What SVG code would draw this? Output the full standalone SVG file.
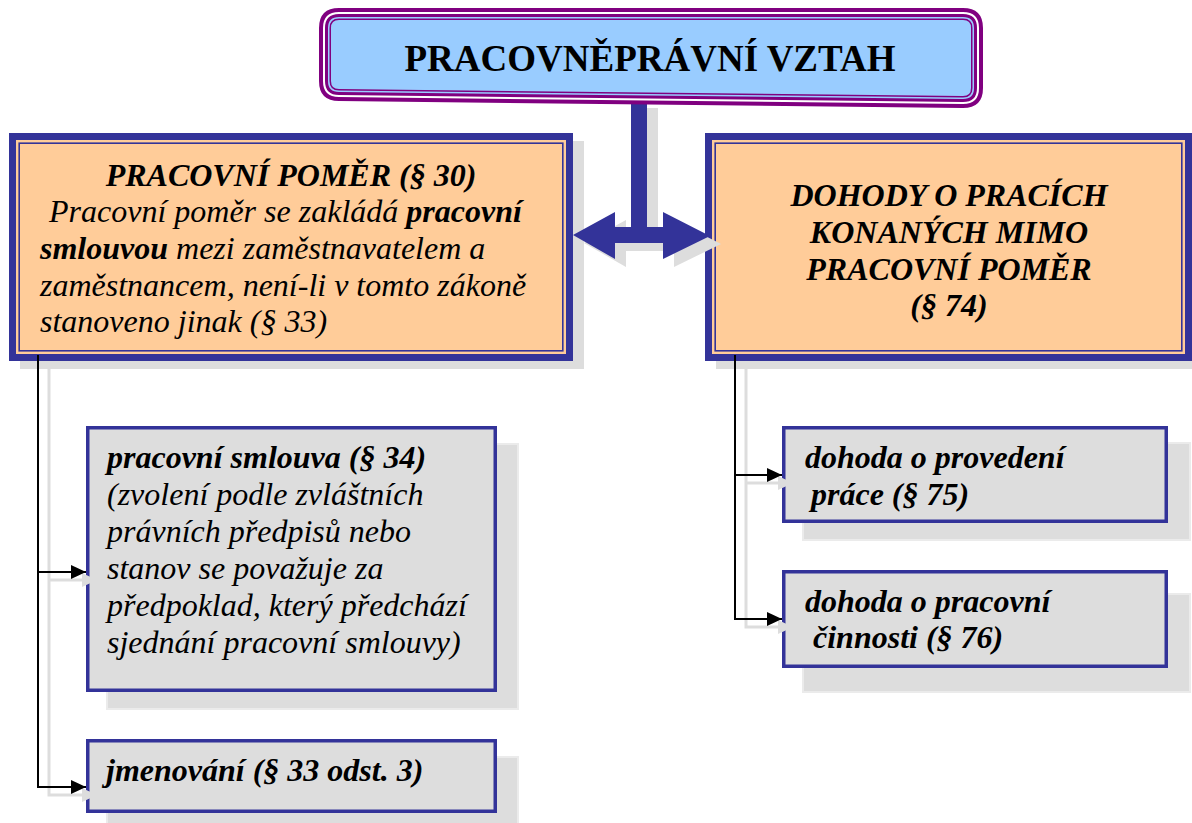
<svg xmlns="http://www.w3.org/2000/svg" width="1192" height="823" viewBox="0 0 1192 823" font-family="'Liberation Serif', 'Times New Roman', Times, 'DejaVu Serif', serif">
<defs>
<style>
text{font-family:'Liberation Serif','Times New Roman',Times,'DejaVu Serif',serif;font-size:32px;fill:#000}
.bi{font-weight:bold;font-style:italic}
.i{font-style:italic}
.b{font-weight:bold}
.title{font-size:37px;font-weight:bold}
.shadow{fill:#DDDDDD}
.cshadow{fill:#DDDDDD;stroke:#EBEBEB;stroke-width:2}
.child{fill:#DDDDDD;stroke:#333399;stroke-width:3.5}
.conn{fill:none;stroke:#000;stroke-width:2}
.connsh{fill:none;stroke:#DDDDDD;stroke-width:3}
</style>
<marker id="ah" viewBox="0 0 15 14" refX="15" refY="7" markerWidth="15" markerHeight="14" markerUnits="userSpaceOnUse" orient="auto">
<path d="M0,0 L15,7 L0,14 Z" fill="#000"/>
</marker>
<marker id="ahs" viewBox="0 0 15 14" refX="15" refY="7" markerWidth="15" markerHeight="14" markerUnits="userSpaceOnUse" orient="auto">
<path d="M0,0 L15,7 L0,14 Z" fill="#DDDDDD"/>
</marker>
</defs>
<rect width="1192" height="823" fill="#fff"/>

<g id="node-pracovni-pomer">
<rect class="shadow" x="20" y="141" width="564" height="228"/>
<rect x="9" y="133" width="564" height="228" fill="#333399"/>
<rect x="16" y="140" width="550" height="214" fill="#FFCC99"/>
<rect x="19.2" y="143.2" width="543.6" height="207.6" fill="none" stroke="#333399" stroke-width="1.6"/>
<text class="bi" x="291" y="186" text-anchor="middle">PRACOVNÍ POMĚR (§ 30)</text>
<text class="i" x="49" y="222">Pracovní poměr se zakládá <tspan class="b">pracovní</tspan></text>
<text class="i" x="40" y="259"><tspan class="b">smlouvou</tspan> mezi zaměstnavatelem a</text>
<text class="i" x="40" y="296">zaměstnancem, není-li v tomto zákoně</text>
<text class="i" x="40" y="332">stanoveno jinak (§ 33)</text>
</g>

<g id="node-dohody">
<rect class="shadow" x="716" y="141" width="487" height="228"/>
<rect x="705" y="133" width="487" height="228" fill="#333399"/>
<rect x="712" y="140" width="473" height="214" fill="#FFCC99"/>
<rect x="715.2" y="143.2" width="466.6" height="207.6" fill="none" stroke="#333399" stroke-width="1.6"/>
<text class="bi" x="949" y="206" text-anchor="middle">DOHODY O PRACÍCH</text>
<text class="bi" x="949" y="243" text-anchor="middle">KONANÝCH MIMO</text>
<text class="bi" x="949" y="280" text-anchor="middle">PRACOVNÍ POMĚR</text>
<text class="bi" x="949" y="316" text-anchor="middle">(§ 74)</text>
</g>

<g id="node-pracovni-smlouva">
<rect class="cshadow" x="107" y="444" width="411" height="265"/>
<rect class="child" x="87.75" y="427.75" width="407.5" height="262.5"/>
<text class="bi" x="107" y="468">pracovní smlouva (§ 34)</text>
<text class="i" x="107" y="505">(zvolení podle zvláštních</text>
<text class="i" x="107" y="542">právních předpisů nebo</text>
<text class="i" x="107" y="579">stanov se považuje za</text>
<text class="i" x="107" y="616">předpoklad, který předchází</text>
<text class="i" x="107" y="653">sjednání pracovní smlouvy)</text>
</g>

<g id="node-jmenovani">
<rect class="cshadow" x="107" y="757" width="411" height="74"/>
<rect class="child" x="87.75" y="740.75" width="407.5" height="70.5"/>
<text class="bi" x="106" y="781">jmenování (§ 33 odst. 3)</text>
</g>

<g id="node-dohoda-provedeni">
<rect class="cshadow" x="803" y="443" width="387" height="97"/>
<rect class="child" x="783.75" y="427.75" width="382.5" height="93.5"/>
<text class="bi" x="805" y="468">dohoda o provedení</text>
<text class="bi" x="811" y="505">práce (§ 75)</text>
</g>

<g id="node-dohoda-cinnosti">
<rect class="cshadow" x="803" y="594" width="387" height="98"/>
<rect class="child" x="783.75" y="571.75" width="382.5" height="94.5"/>
<text class="bi" x="805" y="612">dohoda o pracovní</text>
<text class="bi" x="813" y="648">činnosti (§ 76)</text>
</g>

<g id="connectors">
<path class="connsh" d="M49,369 V795 H97" marker-end="url(#ahs)"/>
<path class="connsh" d="M49,580 H97" marker-end="url(#ahs)"/>
<path class="connsh" d="M746,369 V627 H793" marker-end="url(#ahs)"/>
<path class="connsh" d="M746,483 H793" marker-end="url(#ahs)"/>
<path class="conn" d="M38,355 V787 H86" marker-end="url(#ah)"/>
<path class="conn" d="M38,572 H86" marker-end="url(#ah)"/>
<path class="conn" d="M735,355 V619 H782" marker-end="url(#ah)"/>
<path class="conn" d="M735,475 H782" marker-end="url(#ah)"/>
<g id="double-arrow">
<path class="shadow" transform="translate(11,8)" d="M573,235 L615,212 L615,227 L631,227 L631,100 L647,100 L647,227 L663,227 L663,212 L710,236 L663,259 L663,243 L615,243 L615,259 Z"/>
<path fill="#333399" d="M573,235 L615,212 L615,227 L631,227 L631,100 L647,100 L647,227 L663,227 L663,212 L710,236 L663,259 L663,243 L615,243 L615,259 Z"/>
</g>
</g>

<g id="node-title">
<path fill="#800080" d="M339,8 H963 Q983,8 983,28 V88 Q983,108 963,108 L339,101 Q319,101 319,81 V28 Q319,8 339,8 Z"/>
<path fill="#FFFFFF" d="M339,12 H963 Q979,12 979,28 V88 Q979,104 963,104 L339,97 Q323,97 323,81 V28 Q323,12 339,12 Z"/>
<path fill="#800080" d="M339,14 H963 Q977,14 977,28 V88 Q977,102 963,102 L339,95 Q325,95 325,81 V28 Q325,14 339,14 Z"/>
<path fill="#99CCFF" d="M339,17 H963 Q974,17 974,28 V88 Q974,99 963,99 L339,92 Q328,92 328,81 V28 Q328,17 339,17 Z"/>
<path fill="#800080" d="M339,18.5 H963 Q972.5,18.5 972.5,28 V88 Q972.5,97.5 963,97.5 L339,90.5 Q329.5,90.5 329.5,81 V28 Q329.5,18.5 339,18.5 Z"/>
<path fill="#99CCFF" d="M339,20 H963 Q971,20 971,28 V88 Q971,96 963,96 L339,89 Q331,89 331,81 V28 Q331,20 339,20 Z"/>
<text class="title" x="650" y="71" text-anchor="middle">PRACOVNĚPRÁVNÍ VZTAH</text>
</g>
</svg>
